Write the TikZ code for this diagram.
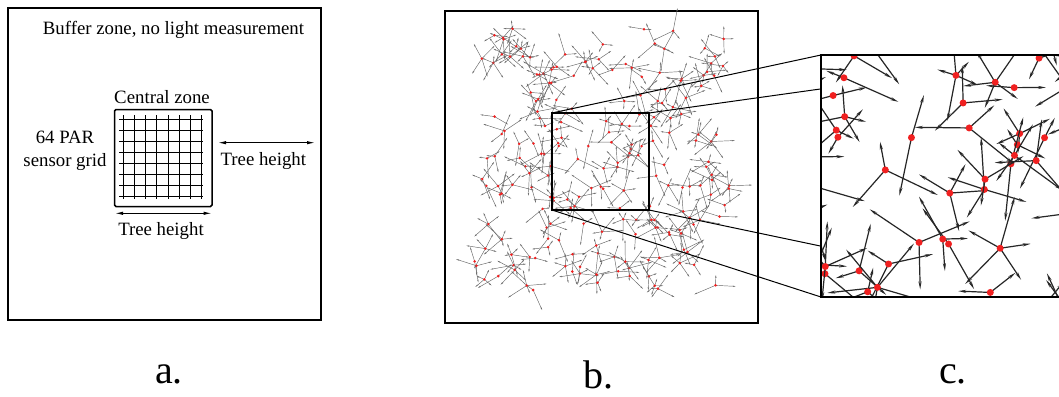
\documentclass[tikz,border=0pt]{standalone}
\usepackage{fontspec}
\setmainfont{Liberation Serif}
\usetikzlibrary{arrows.meta}
\definecolor{dotred}{RGB}{240,32,32}
\tikzset{
  lbl/.style={font=\fontsize{18.8}{22}\selectfont, inner sep=0pt, anchor=base},
  panellbl/.style={font=\fontsize{40}{48}\selectfont, inner sep=0pt, anchor=base},
  frame/.style={line width=2pt},
  gridline/.style={line width=1.1pt, black},
  dimarrow/.style={line width=1pt, {Latex[length=8pt,width=3.4pt]}-{Latex[length=8pt,width=3.4pt]}},
  bbranch/.style={line width=0.45pt, black!60, -{Stealth[length=3pt,width=1.3pt]}},
  cbranch/.style={line width=1.2pt, black!85, -{Stealth[length=8pt,width=3pt]}},
  treedot/.style={fill=dotred},
  zoomline/.style={line width=1pt, black}
}
\newcommand\drawtrees[2]{%
  \pgfmathsetseed{12345}%
  \foreach \i in {1,...,205}{%
    \pgfmathsetmacro\tx{472+262*rnd}%
    \pgfmathsetmacro\ty{28+264*rnd}%
    \pgfmathtruncatemacro\nb{2+4*rnd}%
    \pgfmathsetmacro\ang{360*rnd}%
    \foreach \k in {1,...,\nb}{%
      \pgfmathsetmacro\ta{\ang+\k*360/\nb+50*(rnd-0.5)}%
      \pgfmathsetmacro\tl{7+17*rnd}%
      \draw[#1] (\tx,\ty) -- ++(\ta:\tl);
    }%
    \fill[treedot] (\tx,\ty) circle[radius=#2];
  }}
\begin{document}
\begin{tikzpicture}[x=1pt,y=-1pt]
\useasboundingbox (0,0) rectangle (1059,396);
% ---------------- panel a
\draw[frame] (8,8) rectangle (321,320);
\node[lbl] (buf) at (173.5,35) {Buffer zone, no light measurement};
\foreach \i in {0,...,7}{
  \draw[gridline] (123.3+11.2*\i,115) -- (123.3+11.2*\i,199.3);
  \draw[gridline] (119.3,119.3+11.05*\i) -- (203.3,119.3+11.05*\i);
}
\draw[line width=1.5pt, rounded corners=1.5pt] (114.5,109.5) rectangle (212,206.5);
\node[lbl] (cz) at (162,103) {Central zone};
\node[lbl] (par1) at (65,143) {64 PAR};
\node[lbl] (par2) at (65,166) {sensor grid};
\coordinate (r1) at (218,142.7);
\coordinate (r2) at (315,142.7);
\draw[dimarrow] (r1) -- (r2);
\node[lbl] (th1) at (263.3,165) {Tree height};
\coordinate (b1) at (115,213.3);
\coordinate (b2) at (211.7,213.3);
\draw[dimarrow] (b1) -- (b2);
\node[lbl] (th2) at (161,235) {Tree height};
% ---------------- panel b
\draw[frame] (445,11) rectangle (758,323);
\drawtrees{bbranch}{1.4}
\coordinate (iTL) at (552,113);
\coordinate (iTR) at (649,113);
\coordinate (iBL) at (552,210);
\coordinate (iBR) at (649,210);
\coordinate (cTL) at (821,55);
\coordinate (cTR) at (1063,55);
\coordinate (cBL) at (821,297);
\coordinate (cBR) at (1063,297);
\draw[zoomline] (iTL) -- (cTL);
\draw[zoomline] (iTR) -- (cTR);
\draw[zoomline] (iBL) -- (cBL);
\draw[zoomline] (iBR) -- (cBR);
\draw[line width=1.5pt] (iTL) rectangle (iBR);
% ---------------- panel c
\fill[white] (cTL) rectangle (cBR);
\begin{scope}
  \clip (cTL) rectangle (cBR);
  \begin{scope}[shift={(821,55)}, scale=2.495, shift={(-552,-113)}]
    \drawtrees{cbranch}{1.4}
  \end{scope}
\end{scope}
\draw[frame] (cTL) rectangle (cBR);
% ---------------- labels
\node[panellbl] (la) at (169,383) {a.};
\node[panellbl] (lb) at (598,388) {b.};
\node[panellbl] (lc) at (953,383) {c.};
\end{tikzpicture}
\end{document}
